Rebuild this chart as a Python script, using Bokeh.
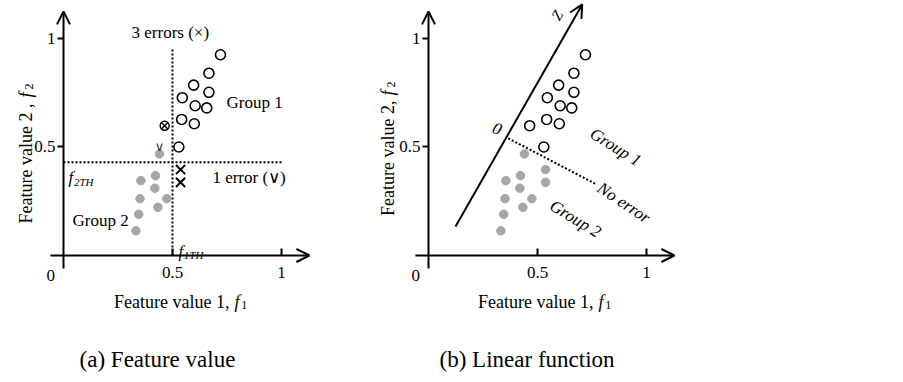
import numpy as np
from bokeh.plotting import figure
from bokeh.models import Range1d, LinearAxis, FixedTicker, Arrow, OpenHead
from bokeh.layouts import row
from bokeh.core.properties import value
from bokeh.embed import file_html
from bokeh.resources import INLINE

# ---------------- data ----------------
group1_x = [0.72, 0.667, 0.597, 0.667, 0.545, 0.604, 0.657, 0.542, 0.600, 0.529, 0.464]
group1_y = [0.925, 0.840, 0.785, 0.752, 0.727, 0.690, 0.680, 0.627, 0.607, 0.500, 0.598]
group2_x = [0.440, 0.422, 0.355, 0.419, 0.351, 0.474, 0.433, 0.345, 0.332, 0.537, 0.537]
group2_y = [0.468, 0.368, 0.345, 0.310, 0.262, 0.262, 0.222, 0.190, 0.114, 0.396, 0.337]

f1_threshold = 0.5
f2_threshold = 0.43
f1_line_top = 0.95
f2_line_right = 1.0

# linear-function panel
z_line_x = [0.124, 0.705]
z_line_y = [0.134, 1.157]
boundary_x = [0.366, 0.766]
boundary_y = [0.540, 0.330]

axis_ticks = [0.5, 1]
x_axis_span = [-0.06, 1.128]
y_axis_span = [-0.06, 1.125]

FONT = value("Liberation Serif")
GRAY = "#a6a6a6"
HEIGHT = 380
Y_RANGE = (-0.576, 1.175)

g1x = np.array(group1_x); g1y = np.array(group1_y)
g2x = np.array(group2_x); g2y = np.array(group2_y)


def make_fig(width, x_start, x_end):
    p = figure(width=width, height=HEIGHT, x_range=Range1d(x_start, x_end),
               y_range=Range1d(*Y_RANGE), x_axis_type=None, y_axis_type=None,
               toolbar_location=None, output_backend="svg", min_border=0,
               background_fill_color="white", border_fill_color="white")
    p.outline_line_color = None
    p.grid.visible = False
    xa = LinearAxis(ticker=FixedTicker(ticks=axis_ticks), fixed_location=0)
    xa.axis_line_color = None
    xa.major_tick_in = 7
    xa.major_tick_out = 0
    xa.major_tick_line_width = 2
    xa.minor_tick_line_color = None
    xa.major_label_standoff = 12
    xa.major_label_text_font = "Liberation Serif"
    xa.major_label_text_font_size = "17px"
    xa.major_label_text_color = "black"
    p.add_layout(xa, "below")
    ya = LinearAxis(ticker=FixedTicker(ticks=axis_ticks), fixed_location=0)
    ya.axis_line_color = None
    ya.major_tick_in = 0
    ya.major_tick_out = 6
    ya.major_tick_line_width = 2
    ya.minor_tick_line_color = None
    ya.major_label_standoff = 2
    ya.major_label_text_font = "Liberation Serif"
    ya.major_label_text_font_size = "17px"
    ya.major_label_text_color = "black"
    ya.major_label_orientation = "horizontal"
    p.add_layout(ya, "left")
    # axis lines with arrows
    p.add_layout(Arrow(x_start=x_axis_span[0], y_start=0, x_end=x_axis_span[1], y_end=0,
                       line_width=2, end=OpenHead(size=13, line_width=2)))
    p.add_layout(Arrow(x_start=0, y_start=y_axis_span[0], x_end=0, y_end=y_axis_span[1],
                       line_width=2, end=OpenHead(size=13, line_width=2)))
    p.text(x=[-0.058], y=[-0.092], text=["0"], text_font=FONT, text_font_size="17px",
           text_align="center", text_baseline="middle", text_color="black")
    return p


def txt(p, x, y, s, size="17px", align="left", style="normal", angle=0.0, baseline="middle"):
    p.text(x=[x], y=[y], text=[s], text_font=FONT, text_font_size=size, text_align=align,
           text_baseline=baseline, text_font_style=style, angle=angle, text_color="black")


# ---------------- panel (a) ----------------
p1 = make_fig(373, -0.289, 1.422)

p1.line([f1_threshold, f1_threshold], [0, f1_line_top], line_dash="2 2", line_width=2, color="black")
p1.line([0, f2_line_right], [f2_threshold, f2_threshold], line_dash="2 2", line_width=2, color="black")

g1_ok = g1x >= f1_threshold
g2_err1 = g2x > f1_threshold
g2_err2 = (g2y > f2_threshold) & ~g2_err1

p1.scatter(g1x[g1_ok], g1y[g1_ok], marker="circle", size=10, fill_color="white",
           line_color="black", line_width=1.6)
p1.scatter(g1x[~g1_ok], g1y[~g1_ok], marker="circle_x", size=9, fill_color="white",
           line_color="black", line_width=1.4)
p1.scatter(g2x[~g2_err1], g2y[~g2_err1], marker="circle", size=8.5, fill_color=GRAY,
           line_color=GRAY)
p1.scatter(g2x[g2_err1], g2y[g2_err1], marker="x", size=13, line_color="black", line_width=2)
p1.text(x=g2x[g2_err2], y=g2y[g2_err2] + 0.035, text=["∨"] * int(g2_err2.sum()),
        text_font=value("DejaVu Sans"), text_font_size="13px", text_align="center",
        text_baseline="middle", text_color="#333333")

txt(p1, 0.49, 1.027, "3 errors (×)", align="center")
txt(p1, 0.748, 0.705, "Group 1")
txt(p1, 0.683, 0.36, "1 error (∨)")
txt(p1, 0.041, 0.161, "Group 2")
# f2TH
txt(p1, 0.023, 0.36, "f", style="italic", baseline="alphabetic", size="17px")
txt(p1, 0.048, 0.34, "2TH", style="italic", baseline="alphabetic", size="11px")
# f1TH
txt(p1, 0.527, 0.02, "f", style="italic", baseline="alphabetic", size="17px")
txt(p1, 0.552, 0.0, "1TH", style="italic", baseline="alphabetic", size="11px")

# axis labels
txt(p1, 0.761, -0.212, "Feature value 1,", size="18px", align="right", baseline="alphabetic")
txt(p1, 0.784, -0.212, "f", size="18px", style="italic", baseline="alphabetic")
txt(p1, 0.815, -0.230, "1", size="12px", baseline="alphabetic")
txt(p1, -0.174, 0.700, "Feature value 2 ,", size="18px", align="right", angle=np.pi / 2)
txt(p1, -0.174, 0.728, "f", size="18px", style="italic", angle=np.pi / 2)
txt(p1, -0.156, 0.765, "2", size="12px", angle=np.pi / 2)

txt(p1, 0.431, -0.48, "(a) Feature value", size="23px", align="center")

# ---------------- panel (b) ----------------
p2 = make_fig(527, -0.2523, 2.165)

p2.add_layout(Arrow(x_start=z_line_x[0], y_start=z_line_y[0], x_end=z_line_x[1], y_end=z_line_y[1],
                    line_width=2, end=OpenHead(size=13, line_width=2)))
p2.line(boundary_x, boundary_y, line_dash="2 2", line_width=2, color="black")

p2.scatter(g1x, g1y, marker="circle", size=10, fill_color="white", line_color="black", line_width=1.6)
p2.scatter(g2x, g2y, marker="circle", size=8.5, fill_color=GRAY, line_color=GRAY)

txt(p2, 0.59, 1.106, "Z", size="15px", style="italic", align="center", angle=np.pi / 3)
txt(p2, 0.315, 0.584, "0", size="17px", style="italic", align="center", angle=-0.35)
txt(p2, 0.858, 0.50, "Group 1", style="italic", align="center", angle=-0.56)
txt(p2, 0.896, 0.243, "No error", style="italic", align="center", angle=-0.59)
txt(p2, 0.674, 0.169, "Group 2", style="italic", align="center", angle=-0.54)

txt(p2, 0.757, -0.212, "Feature value 1,", size="18px", align="right", baseline="alphabetic")
txt(p2, 0.780, -0.212, "f", size="18px", style="italic", baseline="alphabetic")
txt(p2, 0.811, -0.230, "1", size="12px", baseline="alphabetic")
txt(p2, -0.188, 0.714, "Feature value 2,", size="18px", align="right", angle=np.pi / 2)
txt(p2, -0.188, 0.737, "f", size="18px", style="italic", angle=np.pi / 2)
txt(p2, -0.170, 0.774, "2", size="12px", angle=np.pi / 2)

txt(p2, 0.452, -0.48, "(b) Linear function", size="23px", align="center")

layout = row(p1, p2)
open("out.html", "w").write(file_html(layout, INLINE))
